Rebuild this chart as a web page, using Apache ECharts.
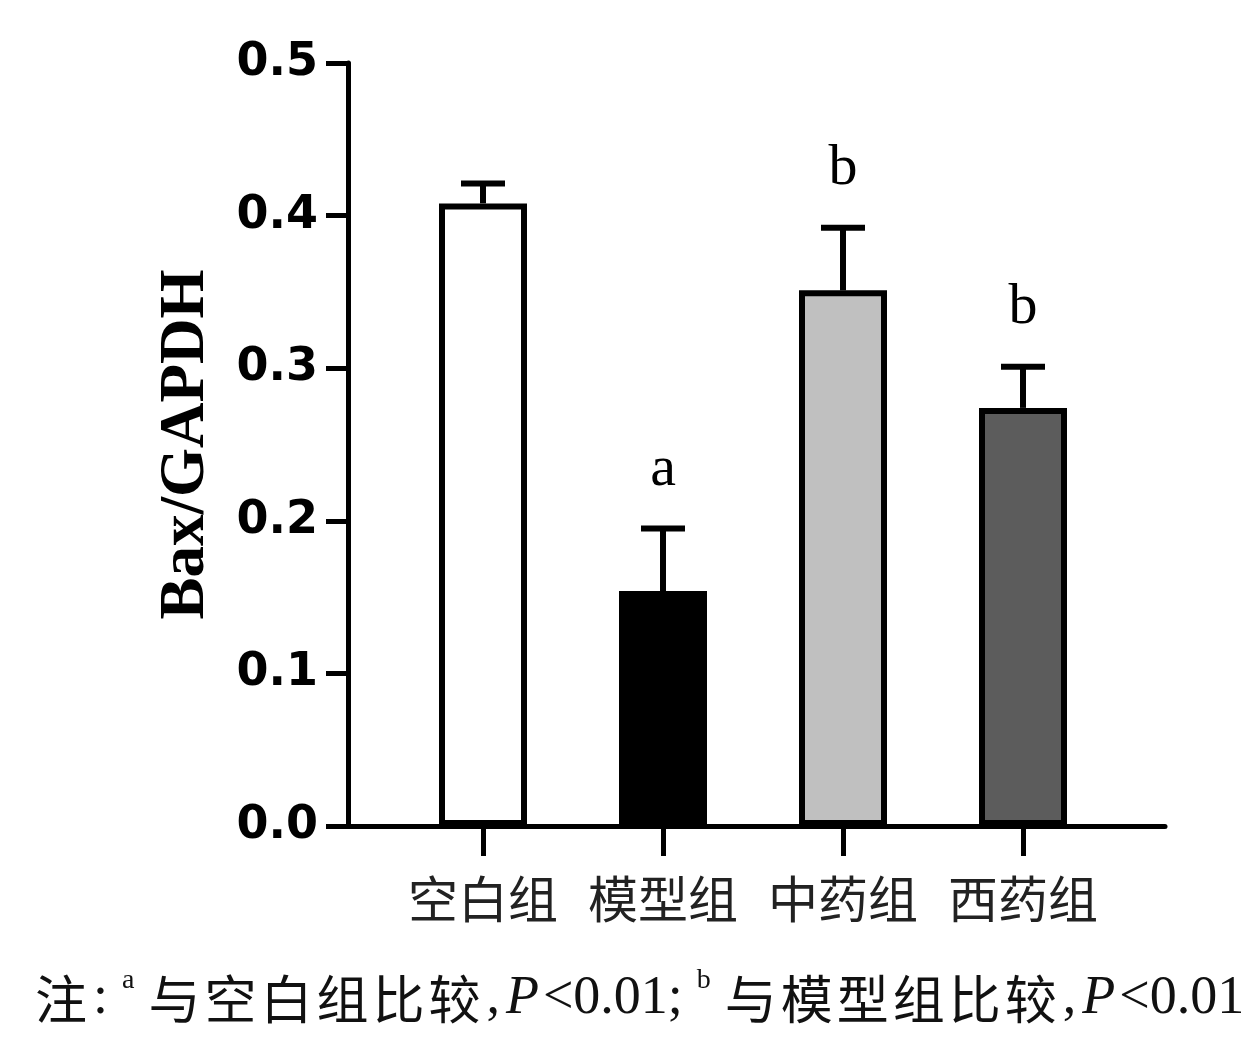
<!DOCTYPE html>
<html>
<head>
<meta charset="utf-8">
<script src="https://cdn.jsdelivr.net/npm/echarts@6/dist/echarts.min.js"></script>
<style>
html,body{margin:0;padding:0;background:#fff;}
#main{width:1260px;height:1043px;}
</style>
</head>
<body>
<div id="main"></div>
<script>
const categories = ['空白组', '模型组', '中药组', '西药组'];
const means = [0.408, 0.154, 0.351, 0.274];
const errors = [0.013, 0.041, 0.041, 0.027];
const sigLabels = ['', 'a', 'b', 'b'];
const barColors = ['#ffffff', '#000000', '#c0c0c0', '#5c5c5c'];
const yMin = 0, yMax = 0.5, yInterval = 0.1;
const yName = 'Bax/GAPDH';
const noteParts = [
  ['cn', '注'], ['lat', ':'], ['sup', 'a'], ['cn', '与空白组比较'], ['lat', ','], ['it', 'P'], ['lat', '<0.01;'],
  ['sup', 'b'], ['cn', '与模型组比较'], ['lat', ','], ['it', 'P'], ['lat', '<0.01']
];

function buildNote(parts) {
  let s = '';
  parts.forEach(([style, txt]) => {
    if (style === 'cn') {
      for (const ch of txt) s += '{cn|' + ch + '}';
    } else {
      s += '{' + style + '|' + txt + '}';
    }
  });
  return s;
}

const chart = echarts.init(document.getElementById('main'));
const errData = means.map((m, i) => [i, m, m + errors[i], sigLabels[i]]);

chart.setOption({
  backgroundColor: '#ffffff',
  animation: false,
  title: {
    left: 28,
    top: 962,
    text: buildNote(noteParts),
    textStyle: {
      fontWeight: 'normal',
      rich: {
        cn: {fontFamily: 'Noto Sans CJK SC', fontSize: 52, color: '#111', fontWeight: 'normal', padding: [0, 2, 0, 2], lineHeight: 64},
        sup: {fontFamily: 'Liberation Serif', fontSize: 28, color: '#111', fontWeight: 'normal', verticalAlign: 'top', padding: [0, 12, 28, 8], lineHeight: 64},
        it: {fontFamily: 'Liberation Serif', fontSize: 54, fontStyle: 'italic', color: '#111', fontWeight: 'normal', lineHeight: 64},
        lat: {fontFamily: 'Liberation Serif', fontSize: 54, color: '#111', fontWeight: 'normal', padding: [0, 6, 0, 4], lineHeight: 64}
      }
    }
  },
  grid: [
    {left: 348, top: 63, width: 817, height: 763, containLabel: false},
    {left: 393, top: 63, width: 720, height: 763, containLabel: false}
  ],
  xAxis: [
    {
      gridIndex: 0, type: 'value', min: 0, max: 1,
      axisLine: {show: true, onZero: false, lineStyle: {color: '#000', width: 5}},
      axisTick: {show: false}, axisLabel: {show: false}, splitLine: {show: false}
    },
    {
      gridIndex: 1, type: 'category', data: categories,
      axisLine: {show: false},
      axisTick: {show: true, alignWithLabel: true, interval: 0, length: 30, lineStyle: {color: '#000', width: 5}},
      axisLabel: {interval: 0, margin: 48, fontSize: 50, color: '#222', fontFamily: 'Noto Sans CJK SC', hideOverlap: false},
      splitLine: {show: false}
    }
  ],
  yAxis: [
    {
      gridIndex: 0, type: 'value', min: yMin, max: yMax, interval: yInterval,
      axisLine: {show: true, lineStyle: {color: '#000', width: 5}},
      axisTick: {show: true, length: 22, lineStyle: {color: '#000', width: 5}},
      axisLabel: {fontSize: 46, fontWeight: 'bold', color: '#000', fontFamily: 'DejaVu Sans', margin: 30,
        formatter: v => v.toFixed(1)},
      splitLine: {show: false},
      name: yName, nameLocation: 'middle', nameRotate: 90, nameGap: 130,
      nameTextStyle: {fontSize: 63, fontWeight: 'bold', fontFamily: 'Liberation Serif', color: '#000'}
    },
    {
      gridIndex: 1, type: 'value', min: yMin, max: yMax, show: false, splitLine: {show: false}
    }
  ],
  series: [
    {
      type: 'bar', xAxisIndex: 1, yAxisIndex: 1,
      barWidth: 88,
      data: means.map((v, i) => ({value: v, itemStyle: {color: barColors[i]}})),
      itemStyle: {borderColor: '#000', borderWidth: 6},
      z: 3
    },
    {
      type: 'custom', xAxisIndex: 1, yAxisIndex: 1,
      data: errData,
      z: 2,
      renderItem: function (params, api) {
        const x = api.coord([api.value(0), 0])[0];
        const yb = api.coord([api.value(0), api.value(1)])[1];
        const yt = api.coord([api.value(0), api.value(2)])[1];
        const half = 22;
        const lbl = errData[params.dataIndex][3];
        const children = [
          {type: 'line', shape: {x1: x, y1: yb, x2: x, y2: yt}, style: {stroke: '#000', lineWidth: 6}},
          {type: 'line', shape: {x1: x - half, y1: yt, x2: x + half, y2: yt}, style: {stroke: '#000', lineWidth: 6}}
        ];
        if (lbl) {
          children.push({type: 'text', style: {text: lbl, x: x, y: yt - 30, textAlign: 'center', textVerticalAlign: 'bottom',
            font: 'normal 58px "Liberation Serif"', fill: '#000'}});
        }
        return {type: 'group', children: children};
      }
    }
  ]
});
</script>
</body>
</html>
